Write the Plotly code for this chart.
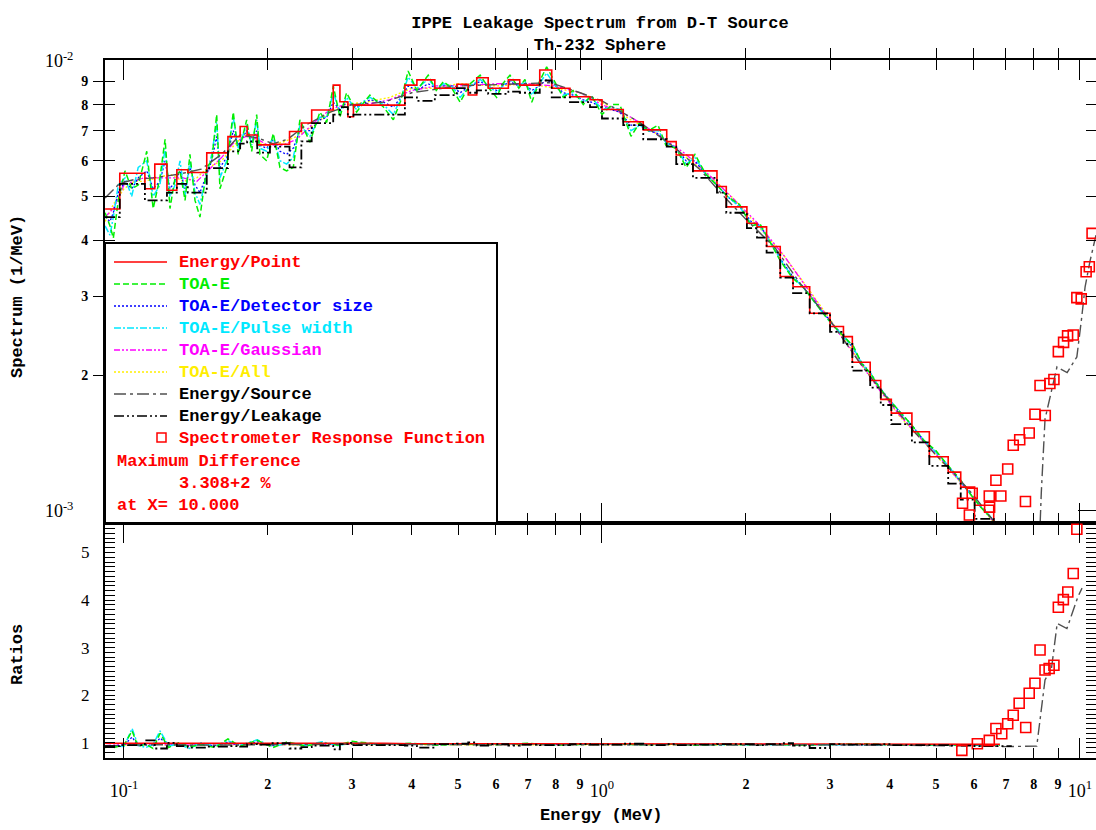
import plotly.graph_objects as go

W, H = 1096, 830

# ---------------- data (spectrum values in units of 1e-3 1/MeV) ----------------
bin_edges = [0.0913, 0.098, 0.1106, 0.116, 0.123, 0.129, 0.136, 0.149, 0.165, 0.175,
             0.181, 0.190, 0.202, 0.222, 0.235, 0.247, 0.274, 0.283, 0.294, 0.302,
             0.387, 0.410, 0.447, 0.497, 0.525, 0.547, 0.578, 0.637, 0.673, 0.741,
             0.785, 0.857, 0.944, 1.0, 1.108, 1.22, 1.366, 1.43, 1.55, 1.74,
             1.82, 2.01, 2.11, 2.21, 2.36, 2.51, 2.72, 3.0, 3.2, 3.34,
             3.64, 3.83, 4.03, 4.45, 4.84, 5.3, 5.63, 6.02, 6.6, 7.2]

point_vals = [4.69, 5.63, 5.20, 5.90, 5.16, 5.73, 5.65, 6.25, 6.79, 7.15,
              6.85, 6.51, 6.53, 6.97, 7.28, 7.78, 8.84, 8.12, 7.52, 7.98,
              8.84, 9.08, 8.70, 8.88, 8.40, 9.18, 8.70, 9.08, 8.84, 9.55,
              8.70, 8.33, 8.20, 7.80, 7.33, 7.03, 6.62, 6.18, 5.70, 5.26,
              4.74, 4.36, 4.28, 3.87, 3.32, 3.15, 2.75, 2.57, 2.44, 2.14,
              1.95, 1.77, 1.65, 1.50, 1.32, 1.22, 1.13, 1.03, 0.92]

leak_vals = [4.50, 5.33, 4.90, 4.90, 5.10, 5.33, 5.10, 5.78, 6.30, 6.55,
             6.63, 6.26, 6.45, 5.80, 6.63, 7.28, 7.60, 7.90, 7.50, 7.60,
             8.30, 8.15, 8.40, 8.70, 8.50, 8.60, 8.45, 8.55, 8.50, 9.05,
             8.30, 8.10, 7.90, 7.45, 7.20, 6.70, 6.45, 5.90, 5.50, 5.10,
             4.60, 4.25, 4.05, 3.75, 3.30, 3.05, 2.75, 2.50, 2.35, 2.05,
             1.88, 1.72, 1.56, 1.42, 1.26, 1.15, 1.06, 0.96, 0.88]

E_fine = [0.0913, 0.0935, 0.095, 0.0973, 0.1005, 0.1038, 0.1071, 0.1116, 0.1151, 0.1189,
          0.1219, 0.1248, 0.1279, 0.131, 0.1342, 0.1374, 0.1408, 0.1442, 0.149, 0.1526,
          0.1563, 0.1588, 0.164, 0.1693, 0.1734, 0.1806, 0.185, 0.1895, 0.1925, 0.1988,
          0.2053, 0.212, 0.2189, 0.226, 0.2334, 0.2449, 0.257, 0.2655, 0.2741, 0.283,
          0.2922, 0.3067, 0.315, 0.327, 0.349, 0.366, 0.38, 0.393, 0.41, 0.433,
          0.45, 0.466, 0.485, 0.505, 0.53, 0.556, 0.58, 0.602, 0.62, 0.642,
          0.67, 0.69, 0.713, 0.74, 0.766, 0.8, 0.83, 0.87, 0.914, 0.95,
          1.0, 1.05, 1.09, 1.15, 1.2, 1.25, 1.31, 1.36, 1.43, 1.5,
          1.565, 1.65, 1.74, 1.83, 1.94, 2.05, 2.14, 2.25, 2.36, 2.5,
          2.63, 2.76, 2.9, 3.05, 3.2, 3.36, 3.5, 3.65, 3.8, 4.0,
          4.2, 4.45, 4.7, 5.0, 5.3, 5.6, 5.9, 6.2, 6.5, 6.8]

toa_e = [4.6, 4.3, 4.04, 4.9, 5.7, 5.2, 5.3, 6.3, 4.7, 5.5,
         6.7, 4.7, 5.5, 5.7, 4.9, 6.2, 4.9, 4.5, 5.8, 6.0,
         7.6, 5.2, 5.8, 7.7, 6.2, 7.4, 6.3, 7.6, 6.2, 6.0,
         6.9, 5.8, 5.7, 5.8, 7.4, 6.6, 7.7, 7.3, 8.8, 7.5,
         8.5, 7.7, 8.0, 8.4, 7.9, 7.4, 8.2, 9.5, 8.6, 9.3,
         8.6, 9.0, 8.7, 8.1, 8.9, 9.3, 8.7, 8.3, 8.9, 9.3,
         8.7, 9.1, 8.1, 9.0, 9.7, 8.9, 8.3, 8.6, 8.0, 8.4,
         7.6, 8.0, 8.0, 6.8, 7.3, 7.0, 7.2, 6.5, 6.4, 5.8,
         6.2, 5.6, 5.3, 5.0, 4.8, 4.3, 4.35, 3.95, 3.6, 3.3,
         3.15, 2.95, 2.75, 2.58, 2.45, 2.32, 2.12, 2.02, 1.88, 1.76,
         1.66, 1.55, 1.44, 1.36, 1.26, 1.18, 1.09, 1.02, 0.97, 0.92]

toa_pulse = [4.3, 4.1, 4.5, 5.3, 5.5, 5.0, 5.8, 6.0, 5.0, 5.3,
             6.4, 5.0, 5.3, 6.0, 5.0, 6.0, 5.1, 4.8, 5.6, 6.2,
             7.3, 5.5, 6.0, 7.5, 6.4, 7.2, 6.5, 7.4, 6.4, 6.3,
             6.8, 6.0, 5.9, 6.1, 7.2, 6.8, 7.5, 7.5, 8.5, 7.7,
             8.3, 7.8, 8.1, 8.3, 8.0, 7.6, 8.3, 9.2, 8.7, 9.1,
             8.7, 8.9, 8.8, 8.3, 8.8, 9.1, 8.8, 8.5, 8.8, 9.1,
             8.8, 9.0, 8.4, 8.9, 9.4, 8.8, 8.4, 8.5, 8.1, 8.3,
             7.8, 7.9, 7.8, 7.0, 7.2, 7.0, 7.0, 6.6, 6.4, 5.9,
             6.1, 5.6, 5.3, 5.0, 4.75, 4.35, 4.3, 3.95, 3.62, 3.32,
             3.15, 2.95, 2.75, 2.58, 2.45, 2.30, 2.12, 2.02, 1.88, 1.76,
             1.66, 1.55, 1.44, 1.35, 1.26, 1.17, 1.09, 1.02, 0.97, 0.92]

toa_det = [4.5, 4.4, 4.6, 5.1, 5.4, 5.2, 5.5, 5.7, 5.2, 5.4,
           6.0, 5.2, 5.4, 5.7, 5.2, 5.8, 5.3, 5.1, 5.6, 6.0,
           6.8, 5.8, 6.1, 7.0, 6.5, 7.0, 6.6, 7.0, 6.5, 6.4,
           6.7, 6.3, 6.2, 6.4, 7.0, 7.0, 7.4, 7.5, 8.1, 7.8,
           8.1, 7.9, 8.0, 8.2, 8.1, 7.9, 8.3, 8.8, 8.6, 8.9,
           8.7, 8.8, 8.8, 8.5, 8.8, 9.0, 8.8, 8.6, 8.8, 9.0,
           8.8, 8.9, 8.6, 8.8, 9.1, 8.8, 8.5, 8.4, 8.2, 8.1,
           7.9, 7.8, 7.7, 7.2, 7.2, 7.0, 6.9, 6.6, 6.4, 6.0,
           6.0, 5.6, 5.3, 5.0, 4.75, 4.4, 4.3, 3.97, 3.64, 3.33,
           3.16, 2.96, 2.76, 2.59, 2.45, 2.29, 2.13, 2.02, 1.89, 1.76,
           1.66, 1.55, 1.44, 1.35, 1.26, 1.17, 1.09, 1.02, 0.97, 0.92]

E_smooth = [0.0913, 0.095, 0.1, 0.105, 0.11, 0.118, 0.125, 0.133, 0.142, 0.15,
            0.16, 0.17, 0.18, 0.19, 0.2, 0.215, 0.23, 0.25, 0.27, 0.29,
            0.32, 0.36, 0.4, 0.45, 0.5, 0.6, 0.7, 0.8, 0.9, 1.0,
            1.15, 1.3, 1.5, 1.7, 1.9, 2.1, 2.4, 2.7, 3.0, 3.4,
            3.8, 4.2, 4.7, 5.2, 5.7, 6.2, 6.8]

toa_gauss = [4.5, 4.7, 5.3, 5.4, 5.5, 5.5, 5.5, 5.5, 5.4, 5.7,
             6.1, 6.6, 6.8, 6.7, 6.5, 6.5, 6.7, 7.3, 7.8, 8.0,
             8.0, 8.2, 8.6, 8.8, 8.8, 8.9, 8.9, 8.8, 8.5, 8.0,
             7.5, 6.9, 6.2, 5.5, 4.9, 4.4, 3.7, 3.1, 2.65, 2.2,
             1.86, 1.63, 1.43, 1.28, 1.14, 1.02, 0.91]

toa_all = [4.4, 4.8, 5.2, 5.4, 5.4, 5.5, 5.6, 5.4, 5.5, 5.8,
           6.0, 6.5, 6.9, 6.6, 6.5, 6.6, 6.8, 7.2, 7.7, 8.0,
           8.1, 8.3, 8.7, 8.7, 8.9, 8.8, 8.9, 8.7, 8.5, 8.1,
           7.4, 6.9, 6.1, 5.5, 4.9, 4.35, 3.7, 3.12, 2.66, 2.2,
           1.87, 1.62, 1.43, 1.27, 1.14, 1.02, 0.91]

E_source = [0.0913, 0.098, 0.105, 0.115, 0.13, 0.145, 0.16, 0.175, 0.19, 0.205,
            0.22, 0.24, 0.27, 0.3, 0.35, 0.4, 0.5, 0.6, 0.7, 0.78,
            0.9, 1.0, 1.2, 1.4, 1.6, 1.8, 2.0, 2.3, 2.6, 3.0,
            3.5, 4.0, 4.5, 5.0, 5.5, 6.0, 6.6, 7.0, 7.5, 8.1,
            8.3, 8.45, 8.65, 8.95, 9.4, 9.85, 10.07, 10.25, 10.5, 10.8]
source_vals = [4.96, 5.35, 5.45, 5.5, 5.6, 5.75, 6.2, 6.85, 6.75, 6.55,
               6.7, 7.2, 7.7, 8.0, 8.1, 8.5, 8.8, 8.85, 8.9, 8.95,
               8.5, 8.15, 7.3, 6.5, 5.75, 5.0, 4.45, 3.85, 3.2, 2.65,
               2.1, 1.75, 1.5, 1.33, 1.2, 1.08, 0.95, 0.80, 0.65, 0.55,
               1.10, 1.60, 1.79, 2.09, 2.03, 2.20, 2.66, 3.15, 3.60, 4.10]

srf_E = [5.68, 5.87, 5.95, 6.46, 6.47, 6.67, 6.83, 7.06, 7.25, 7.48,
         7.69, 7.83, 8.05, 8.25, 8.46, 8.65, 8.82, 9.01, 9.24, 9.42,
         9.68, 9.85, 10.06, 10.3, 10.46, 10.6]
srf_vals = [1.04, 0.98, 1.095, 1.08, 1.02, 1.17, 1.08, 1.24, 1.40, 1.44,
            1.05, 1.49, 1.64, 1.90, 1.63, 1.92, 1.96, 2.26, 2.37, 2.45,
            2.46, 2.98, 2.96, 3.40, 3.49, 4.14]

# ---------------- ratio panel data ----------------
E_ratio = [0.0913, 0.095, 0.1, 0.104, 0.107, 0.111, 0.115, 0.119, 0.124, 0.13,
           0.137, 0.145, 0.155, 0.165, 0.175, 0.19, 0.205, 0.22, 0.24, 0.26,
           0.28, 0.3, 0.35, 0.4, 0.45, 0.5, 0.6, 0.7, 0.8, 0.9,
           1.0, 1.2, 1.4, 1.6, 1.8, 2.0, 2.3, 2.6, 3.0, 3.5,
           4.0, 4.5, 5.0, 5.5, 6.0, 6.5, 6.8]
ratio_point = [0.99, 0.99, 1.00, 1.00, 0.99, 1.00, 0.99, 1.00, 0.99, 0.99,
               1.00, 0.99, 0.99, 1.00, 0.99, 1.00, 0.99, 0.99, 1.00, 0.99,
               0.99, 0.99, 0.99, 0.98, 0.98, 0.98, 0.98, 0.98, 0.98, 0.98,
               0.98, 0.98, 0.98, 0.98, 0.97, 0.97, 0.97, 0.97, 0.97, 0.97,
               0.97, 0.97, 0.97, 0.97, 0.97, 0.97, 0.97]
ratio_toa = [0.93, 0.90, 0.95, 1.25, 0.92, 0.97, 0.88, 1.20, 0.90, 1.00,
             0.92, 0.96, 0.90, 1.08, 0.93, 1.05, 0.90, 1.02, 0.93, 1.00,
             0.95, 1.03, 0.96, 0.99, 0.95, 0.97, 0.96, 0.99, 0.95, 0.97,
             0.98, 0.96, 0.97, 0.95, 0.97, 0.96, 0.97, 0.95, 0.96, 0.98,
             0.96, 0.95, 0.96, 0.95, 0.96, 0.95, 0.95]
ratio_pulse = [0.90, 0.93, 0.92, 1.30, 0.95, 0.90, 0.96, 1.25, 0.93, 0.97,
               0.88, 1.00, 0.93, 1.04, 0.95, 1.06, 0.92, 0.99, 0.95, 1.02,
               0.94, 1.00, 0.97, 0.98, 0.96, 0.97, 0.97, 0.98, 0.96, 0.97,
               0.97, 0.96, 0.97, 0.96, 0.96, 0.96, 0.97, 0.96, 0.96, 0.97,
               0.96, 0.96, 0.95, 0.96, 0.95, 0.95, 0.95]
ratio_det = [0.92, 0.93, 0.95, 1.12, 0.94, 0.96, 0.93, 1.10, 0.94, 0.97,
             0.93, 0.97, 0.94, 1.01, 0.95, 1.02, 0.94, 0.99, 0.95, 0.99,
             0.96, 0.99, 0.97, 0.98, 0.96, 0.97, 0.97, 0.97, 0.96, 0.97,
             0.97, 0.96, 0.97, 0.96, 0.96, 0.96, 0.97, 0.96, 0.96, 0.97,
             0.96, 0.96, 0.96, 0.96, 0.95, 0.95, 0.95]
ratio_gauss = [0.94, 0.95, 0.96, 0.98, 0.95, 0.97, 0.96, 0.98, 0.95, 0.97,
               0.95, 0.97, 0.95, 0.98, 0.96, 0.98, 0.95, 0.97, 0.96, 0.97,
               0.96, 0.98, 0.96, 0.97, 0.96, 0.97, 0.96, 0.97, 0.96, 0.97,
               0.97, 0.96, 0.97, 0.96, 0.97, 0.96, 0.97, 0.96, 0.96, 0.97,
               0.96, 0.96, 0.96, 0.95, 0.95, 0.95, 0.95]
ratio_all = [0.90, 0.92, 0.94, 0.97, 0.95, 0.96, 0.95, 0.97, 0.94, 0.96,
             0.95, 0.96, 0.95, 0.97, 0.95, 0.97, 0.95, 0.96, 0.95, 0.97,
             0.96, 0.97, 0.96, 0.97, 0.96, 0.96, 0.96, 0.97, 0.96, 0.96,
             0.96, 0.96, 0.96, 0.96, 0.96, 0.96, 0.96, 0.96, 0.96, 0.96,
             0.96, 0.95, 0.95, 0.95, 0.95, 0.95, 0.95]
ratio_leak = [0.93, 0.95, 1.05, 0.88, 1.00, 0.93, 0.90, 0.92, 0.93, 0.92,
              0.97, 0.96, 0.99, 0.88, 0.91, 0.94, 0.86, 0.97, 1.00, 0.95,
              0.94, 0.90, 0.97, 0.98, 1.01, 0.94, 0.97, 0.94, 0.96, 0.95,
              0.95, 0.97, 0.96, 0.96, 0.98, 0.95, 0.97, 0.95, 0.96, 0.97,
              0.97, 0.97, 0.95, 0.97, 0.99, 0.94, 0.89, 0.97, 0.96, 0.96,
              0.96, 0.97, 0.95, 0.95, 0.95, 0.94, 0.94, 0.93, 0.93]
E_ratio_source = [0.0913, 0.1, 0.12, 0.15, 0.2, 0.3, 0.5, 0.8, 1.0, 1.5,
                  2.0, 3.0, 4.0, 5.0, 6.0, 6.5, 7.0, 8.12, 8.45, 8.72,
                  8.96, 9.39, 9.6, 9.9, 10.1]
ratio_source = [0.93, 0.95, 0.96, 0.95, 0.96, 0.97, 0.96, 0.97, 0.96, 0.96,
                0.95, 0.96, 0.95, 0.95, 0.94, 0.93, 0.92, 0.93, 2.32, 2.57,
                3.51, 3.40, 3.68, 4.07, 4.25]
ratio_srf_E = [5.66, 6.10, 6.46, 6.67, 6.86, 7.06, 7.25, 7.46, 7.70, 7.83,
               8.05, 8.25, 8.45, 8.62, 8.82, 9.01, 9.23, 9.43, 9.68, 9.85]
ratio_srf = [0.84, 0.98, 1.05, 1.30, 1.19, 1.40, 1.58, 1.83, 1.32, 2.04,
             2.25, 2.95, 2.53, 2.56, 2.63, 3.85, 4.01, 4.17, 4.56, 5.49]

# tick labels: digits on the main axes, decades on overlay axes (larger font, longer ticks)
x_digit_vals = [0.2, 0.3, 0.4, 0.5, 0.6, 0.7, 0.8, 0.9, 2, 3, 4, 5, 6, 7, 8, 9]
x_digit_text = ["<b>2</b>", "<b>3</b>", "<b>4</b>", "<b>5</b>", "<b>6</b>", "<b>7</b>",
                "<b>8</b>", "<b>9</b>", "<b>2</b>", "<b>3</b>", "<b>4</b>", "<b>5</b>",
                "<b>6</b>", "<b>7</b>", "<b>8</b>", "<b>9</b>"]
x_decade_vals = [0.1, 1, 10]
x_decade_text = ["10<sup>-1</sup>", "10<sup>0</sup>", "10<sup>1</sup>"]
y_digit_vals = [0.002, 0.003, 0.004, 0.005, 0.006, 0.007, 0.008, 0.009]
y_digit_text = ["<b>2</b>", "<b>3</b>", "<b>4</b>", "<b>5</b>", "<b>6</b>", "<b>7</b>",
                "<b>8</b>", "<b>9</b>"]
y_decade_vals = [0.001, 0.01]
y_decade_text = ["10<sup>-3</sup>", "10<sup>-2</sup>"]
ratio_tick_vals = [1, 2, 3, 4, 5]
ratio_tick_text = ["1", "2", "3", "4", "5"]

# ---------------- styling ----------------
MONO = "Liberation Mono"
SERIF = "Liberation Serif"
RED, GREEN, BLUE, CYAN, MAG, YEL = "#ff0000", "#00ee00", "#0000ff", "#00e8ff", "#ff00ff", "#ffee00"
GRAY, BLACK = "#505050", "#000000"

DASH = {
    "point": "solid",
    "toa": "6px,3px",
    "det": "2px,2px",
    "pulse": "7px,2px,2px,2px",
    "gauss": "6px,2px,2px,2px,2px,2px",
    "all": "2px,2px",
    "source": "12px,4px,3px,4px",
    "leak": "10px,3px,2px,3px,2px,3px",
}

def e3(vals):
    return [v * 1e-3 for v in vals]

def step_y(vals):
    return list(vals) + [vals[-1]]

fig = go.Figure()

def add_line(x, y, color, dash, width, xa, ya, shape="linear"):
    fig.add_trace(go.Scatter(x=x, y=y, mode="lines", xaxis=xa, yaxis=ya,
                             line=dict(color=color, dash=dash, width=width, shape=shape),
                             showlegend=False, hoverinfo="skip"))

# ---- top panel ----
add_line(E_smooth, e3(toa_all), YEL, DASH["all"], 1.4, "x", "y")
add_line(E_smooth, e3(toa_gauss), MAG, DASH["gauss"], 1.3, "x", "y")
add_line(E_fine, e3(toa_det), BLUE, DASH["det"], 1.3, "x", "y")
add_line(E_fine, e3(toa_pulse), CYAN, DASH["pulse"], 1.5, "x", "y")
add_line(E_fine, e3(toa_e), GREEN, DASH["toa"], 1.5, "x", "y")
add_line(E_source, e3(source_vals), GRAY, DASH["source"], 1.4, "x", "y")
add_line(bin_edges, e3(step_y(point_vals)), RED, DASH["point"], 1.6, "x", "y", "hv")
add_line(bin_edges, e3(step_y(leak_vals)), BLACK, DASH["leak"], 1.8, "x", "y", "hv")
fig.add_trace(go.Scatter(x=srf_E, y=e3(srf_vals), mode="markers", xaxis="x", yaxis="y",
                         marker=dict(symbol="square-open", size=10, color=RED,
                                     line=dict(width=1.6, color=RED)),
                         cliponaxis=True, showlegend=False, hoverinfo="skip"))

# ---- ratio panel ----
add_line(E_ratio, ratio_all, YEL, DASH["all"], 1.4, "x2", "y2")
add_line(E_ratio, ratio_gauss, MAG, DASH["gauss"], 1.3, "x2", "y2")
add_line(E_ratio, ratio_det, BLUE, DASH["det"], 1.3, "x2", "y2")
add_line(E_ratio, ratio_pulse, CYAN, DASH["pulse"], 1.5, "x2", "y2")
add_line(E_ratio, ratio_toa, GREEN, DASH["toa"], 1.5, "x2", "y2")
add_line(E_ratio, ratio_point, RED, DASH["point"], 1.6, "x2", "y2")
add_line(E_ratio_source, ratio_source, GRAY, DASH["source"], 1.4, "x2", "y2")
add_line(bin_edges, step_y(ratio_leak), BLACK, DASH["leak"], 1.8, "x2", "y2", "hv")
fig.add_trace(go.Scatter(x=ratio_srf_E, y=ratio_srf, mode="markers", xaxis="x2", yaxis="y2",
                         marker=dict(symbol="square-open", size=10, color=RED,
                                     line=dict(width=1.6, color=RED)),
                         cliponaxis=True, showlegend=False, hoverinfo="skip"))

# empty traces that attach the overlay (decade) axes to their panels
for xa, ya in (("x3", "y"), ("x", "y3"), ("x4", "y2")):
    fig.add_trace(go.Scatter(x=[None], y=[None], xaxis=xa, yaxis=ya, mode="lines",
                             showlegend=False, hoverinfo="skip"))

# ---------------- axes ----------------
LEFT, RIGHT = 105 / W, 1.0
TOP_Y0, TOP_Y1 = 1 - 523 / H, 1 - 60 / H
BOT_Y0, BOT_Y1 = 1 - 758 / H, 1 - 523 / H
XR = [-1.0397, 1.0335]
YR = [-3.0267, -1.9978]
RR = [0.68, 5.62]

base = dict(showline=True, linecolor="black", linewidth=2, mirror="allticks",
            ticks="inside", tickcolor="black", tickwidth=1.3, showgrid=False,
            zeroline=False, automargin=False, tickmode="array")
digitfont = dict(family=SERIF, size=14, color="black")
decfont = dict(family=SERIF, size=18, color="black")
ratiofont = dict(family=SERIF, size=17, color="black")

fig.update_layout(
    xaxis=dict(base, domain=[LEFT, RIGHT], type="log", range=XR, anchor="y",
               tickvals=x_digit_vals, ticktext=x_digit_text,
               ticklen=10, showticklabels=False),
    xaxis3=dict(base, type="log", range=XR, overlaying="x", anchor="y",
                tickvals=x_decade_vals, ticktext=x_decade_text,
                ticklen=20, showticklabels=False),
    xaxis2=dict(base, domain=[LEFT, RIGHT], type="log", range=XR, anchor="y2",
                tickvals=x_digit_vals, ticktext=x_digit_text,
                ticklen=10, showticklabels=True, tickfont=digitfont, ticklabelstandoff=12),
    xaxis4=dict(base, type="log", range=XR, overlaying="x2", anchor="y2",
                tickvals=x_decade_vals, ticktext=x_decade_text,
                ticklen=20, showticklabels=True, tickfont=decfont, ticklabelstandoff=15),
    yaxis=dict(base, domain=[TOP_Y0, TOP_Y1], type="log", range=YR, anchor="x",
               tickvals=y_digit_vals, ticktext=y_digit_text,
               ticklen=10, tickfont=digitfont, ticklabelstandoff=12),
    yaxis3=dict(base, type="log", range=YR, overlaying="y", anchor="x",
                tickvals=y_decade_vals, ticktext=y_decade_text,
                ticklen=18, showticklabels=True, tickfont=decfont, ticklabelstandoff=26),
    yaxis2=dict(base, domain=[BOT_Y0, BOT_Y1], range=RR, anchor="x2",
                tickvals=ratio_tick_vals, ticktext=ratio_tick_text,
                ticklen=10, tickfont=ratiofont, ticklabelstandoff=10,
                minor=dict(dtick=0.1, tick0=0, ticks="inside", ticklen=5,
                           tickcolor="black", tickwidth=1)),
    width=W, height=H,
    margin=dict(l=0, r=0, t=0, b=0),
    paper_bgcolor="white", plot_bgcolor="white",
    showlegend=False,
    title=dict(text="IPPE Leakage Spectrum from D-T Source<br>Th-232 Sphere",
               x=600 / W, xanchor="center", y=1 - 28 / H, yanchor="middle",
               font=dict(family=MONO, size=17, color="black", weight="bold")),
)

# ---------------- axis titles ----------------
def px_x(px):
    return px / W

def px_y(py):
    return 1 - py / H

TXT = dict(family=MONO, size=17, weight="bold")

annotations = [
    dict(text="Energy (MeV)", x=px_x(601), y=px_y(815), showarrow=False,
         xref="paper", yref="paper", xanchor="center", yanchor="middle",
         font=dict(TXT, color="black")),
    dict(text="Spectrum (1/MeV)", x=px_x(17), y=px_y(297), showarrow=False,
         xref="paper", yref="paper", xanchor="center", yanchor="middle", textangle=-90,
         font=dict(TXT, color="black")),
    dict(text="Ratios", x=px_x(17), y=px_y(655), showarrow=False,
         xref="paper", yref="paper", xanchor="center", yanchor="middle", textangle=-90,
         font=dict(TXT, color="black")),
]

# ---------------- legend box ----------------
shapes = [dict(type="rect", xref="paper", yref="paper", layer="above",
               x0=px_x(105), x1=px_x(497), y0=px_y(523), y1=px_y(243),
               fillcolor="white", line=dict(color="black", width=2))]

legend_rows = [
    ("Energy/Point", RED, DASH["point"], RED),
    ("TOA-E", GREEN, DASH["toa"], GREEN),
    ("TOA-E/Detector size", BLUE, DASH["det"], BLUE),
    ("TOA-E/Pulse width", CYAN, DASH["pulse"], CYAN),
    ("TOA-E/Gaussian", MAG, DASH["gauss"], MAG),
    ("TOA-E/All", YEL, DASH["all"], YEL),
    ("Energy/Source", GRAY, DASH["source"], BLACK),
    ("Energy/Leakage", BLACK, DASH["leak"], BLACK),
]
row_y = 262
for label, lcolor, dash, tcolor in legend_rows:
    shapes.append(dict(type="line", xref="paper", yref="paper", layer="above",
                       x0=px_x(114), x1=px_x(167), y0=px_y(row_y), y1=px_y(row_y),
                       line=dict(color=lcolor, dash=dash, width=1.5)))
    annotations.append(dict(text=label, x=px_x(177), y=px_y(row_y), showarrow=False,
                            xref="paper", yref="paper", xanchor="left", yanchor="middle",
                            font=dict(TXT, color=tcolor)))
    row_y += 22

shapes.append(dict(type="rect", xref="paper", yref="paper", layer="above",
                   x0=px_x(157), x1=px_x(166), y0=px_y(row_y + 4), y1=px_y(row_y - 5),
                   line=dict(color=RED, width=1.5)))
annotations.append(dict(text="Spectrometer Response Function", x=px_x(177), y=px_y(row_y),
                        showarrow=False, xref="paper", yref="paper", xanchor="left",
                        yanchor="middle", font=dict(TXT, color=RED)))
row_y += 23
for text, xpx in (("Maximum Difference", 115), ("3.308+2 %", 177), ("at X= 10.000", 115)):
    annotations.append(dict(text=text, x=px_x(xpx), y=px_y(row_y), showarrow=False,
                            xref="paper", yref="paper", xanchor="left", yanchor="middle",
                            font=dict(TXT, color=RED)))
    row_y += 22

fig.update_layout(shapes=shapes, annotations=annotations)

fig.write_html("out.html")
